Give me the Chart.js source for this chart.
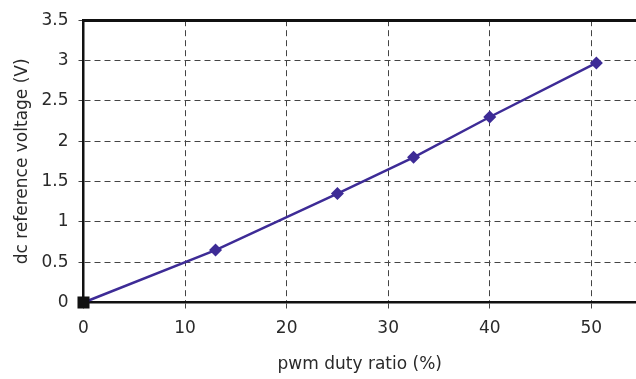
<!DOCTYPE html>
<html><head><meta charset="utf-8">
<script src="https://cdn.jsdelivr.net/npm/chart.js@4/dist/chart.umd.min.js"></script>
<style>html,body{margin:0;padding:0;background:#fff;}canvas{display:block;}</style>
</head><body>
<canvas id="c" width="636" height="379"></canvas>
<script>
const dutyRatio = [0, 13, 25, 32.5, 40, 50.5];
const dcVoltage = [0, 0.65, 1.35, 1.8, 2.3, 2.97];
const xTicks = [0, 10, 20, 30, 40, 50];
const yTicks = [0, 0.5, 1, 1.5, 2, 2.5, 3, 3.5];

const FONT = "'DejaVu Sans', 'Liberation Sans', Arial, sans-serif";
const points = dutyRatio.map((x, i) => ({x, y: dcVoltage[i]}));
const lineColor = '#3d2b96';

new Chart(document.getElementById('c'), {
  type: 'line',
  data: {
    datasets: [{
      data: points,
      borderColor: lineColor,
      borderWidth: 2.5,
      backgroundColor: points.map((p, i) => i === 0 ? '#111' : lineColor),
      pointBorderColor: points.map((p, i) => i === 0 ? '#111' : lineColor),
      pointStyle: points.map((p, i) => i === 0 ? 'rect' : 'rectRot'),
      pointRadius: points.map((p, i) => i === 0 ? 8.5 : 6.5),
      pointBorderWidth: 0,
      tension: 0,
      clip: false
    }]
  },
  options: {
    responsive: false,
    animation: false,
    devicePixelRatio: 1,
    layout: { autoPadding: false, padding: 0 },
    plugins: { legend: { display: false }, tooltip: { enabled: false } },
    scales: {
      x: {
        type: 'linear',
        min: 0, max: 54.4,
        afterBuildTicks: s => { s.ticks = xTicks.map(v => ({value: v})); },
        afterFit: s => { s.height = 76.5; },
        border: { display: true, color: '#111', width: 2.5, dash: [6, 4] },
        grid: { color: '#444', lineWidth: 1, tickLength: 6 },
        ticks: { color: '#2a2a2a', font: { family: FONT, size: 17 }, padding: 10, maxRotation: 0 },
        title: { display: true, text: 'pwm duty ratio (%)', color: '#2a2a2a', font: { family: FONT, size: 17 }, padding: { top: 7 } }
      },
      x2: {
        type: 'linear', position: 'top',
        min: 0, max: 54.4,
        afterFit: s => { s.height = 17; },
        border: { display: true, color: '#111', width: 3 },
        grid: { display: false },
        ticks: { display: false }
      },
      y: {
        type: 'linear',
        min: 0, max: 3.5,
        afterBuildTicks: s => { s.ticks = yTicks.map(v => ({value: v})); },
        afterFit: s => { s.width = 83.5; },
        border: { display: true, color: '#111', width: 2.5, dash: [6, 4] },
        grid: { color: '#444', lineWidth: 1, tickLength: 5 },
        ticks: { color: '#2a2a2a', font: { family: FONT, size: 17 }, padding: 10, callback: v => String(v) },
        title: { display: true, text: 'dc reference voltage (V)', color: '#2a2a2a', font: { family: FONT, size: 17 }, padding: { top: 12, bottom: 4 } }
      }
    }
  }
});
</script>
</body></html>
